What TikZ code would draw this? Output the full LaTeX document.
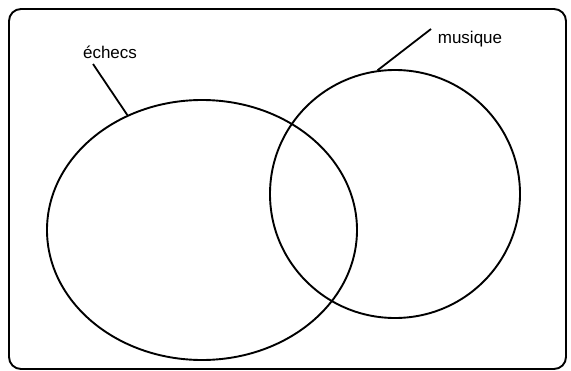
\documentclass[tikz,border=0pt]{standalone}
\usepackage{fontspec}
\setmainfont{Liberation Sans}
\usetikzlibrary{shapes.geometric}

\begin{document}
\begin{tikzpicture}[x=1pt,y=-1pt,
    set/.style={draw,ellipse,line width=1.9pt,inner sep=0pt},
    setlabel/.style={font=\fontsize{17}{20}\selectfont,inner sep=0pt,anchor=base},
    leader/.style={line width=1.8pt}]
  \useasboundingbox (0,0) rectangle (571,370);
  % universe
  \node[draw,line width=1.9pt,rounded corners=12pt,minimum width=557pt,minimum height=360pt,inner sep=0pt] (univers) at (287.5,189) {};
  % the two sets
  \node[set,minimum width=310pt,minimum height=260pt] (echecs) at (202,230) {};
  \node[set,minimum width=250pt,minimum height=248pt] (musique) at (395,194) {};
  % labels
  \node[setlabel] (echecslabel) at (110,58) {échecs};
  \node[setlabel] (musiquelabel) at (470,43) {musique};
  \coordinate (echecsend) at (93,64);
  \coordinate (musiqueend) at (431,29);
  \draw[leader] (echecsend) -- (echecs.123.6);
  \draw[leader] (musiqueend) -- (musique.98.4);
\end{tikzpicture}
\end{document}
